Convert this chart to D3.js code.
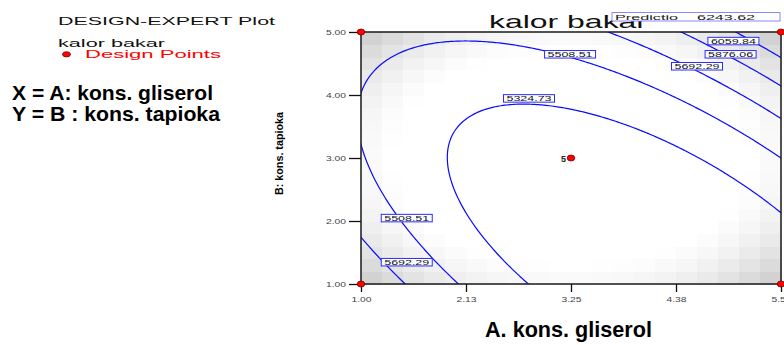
<!DOCTYPE html>
<html>
<head>
<meta charset="utf-8">
<script src="https://cdn.jsdelivr.net/npm/d3@7"></script>
<style>
  html, body { margin: 0; padding: 0; background: #ffffff; }
  svg { display: block; font-family: "Liberation Sans", Arial, Helvetica, sans-serif; }
</style>
</head>
<body>
<svg id="chart" width="784" height="345"></svg>
<script>
// ---- Response surface: kalor bakar, quadratic model in coded factors ----
const modelTerms = ["Intercept", "A", "B", "AB", "A^2", "B^2"];
const modelCoefs = [5218.4, -6.0, 190.8, 326.7, 296.3, 217.4];

// factor ranges (actual units)
const factorNames = ["A. kons. gliserol", "B: kons. tapioka"];
const rangeA = [1.00, 5.50];
const rangeB = [1.00, 5.00];

// contour levels drawn
const contourLevels = [5324.73, 5508.51, 5692.29, 5876.06, 6059.84];

// contour label placements (actual units)
const labelLevels = [5324.73, 5508.51, 5692.29, 5876.06, 6059.84, 5508.51, 5692.29];
const labelA = [2.80, 3.24, 4.60, 4.96, 4.99, 1.49, 1.49];
const labelB = [3.95, 4.65, 4.46, 4.65, 4.86, 2.05, 1.35];

// design points inside the plotted region
const designA = [1.00, 1.00, 5.50, 5.50, 3.25];
const designB = [1.00, 5.00, 1.00, 5.00, 3.00];
const designReps = [1, 1, 1, 1, 5];

// full central composite design (coded) used for the standard-error shading
const ccdA = [-1, 1, -1, 1, -1.414, 1.414, 0, 0, 0, 0, 0, 0, 0];
const ccdB = [-1, -1, 1, 1, 0, 0, -1.414, 1.414, 0, 0, 0, 0, 0];

// axis ticks
const xTickValues = [1.00, 2.125, 3.25, 4.375, 5.50];
const xTickLabels = ["1.00", "2.13", "3.25", "4.38", "5.50"];
const yTickValues = [1.00, 2.00, 3.00, 4.00, 5.00];
const yTickLabels = ["1.00", "2.00", "3.00", "4.00", "5.00"];

// prediction readout at the selected point
const predictionText = ["Predictio", "6243.62"];

// ---------------------------------------------------------------------
const svg = d3.select("#chart");
const plot = { left: 361, top: 32, right: 781, bottom: 284 };

const x = d3.scaleLinear().domain(rangeA).range([plot.left, plot.right]);
const y = d3.scaleLinear().domain(rangeB).range([plot.bottom, plot.top]);

const codeA = A => (A - (rangeA[0] + rangeA[1]) / 2) / ((rangeA[1] - rangeA[0]) / 2);
const codeB = B => (B - (rangeB[0] + rangeB[1]) / 2) / ((rangeB[1] - rangeB[0]) / 2);
const termsOf = (a, b) => [1, a, b, a * b, a * a, b * b];
const predict = (A, B) => {
  const t = termsOf(codeA(A), codeB(B));
  return d3.sum(t, (v, i) => v * modelCoefs[i]);
};

// ---- standard error of prediction from the design ----
function invert(M) {
  const n = M.length;
  const A = M.map((row, i) => row.concat(d3.range(n).map(j => (i === j ? 1 : 0))));
  for (let c = 0; c < n; c++) {
    let p = c;
    for (let r = c + 1; r < n; r++) if (Math.abs(A[r][c]) > Math.abs(A[p][c])) p = r;
    [A[c], A[p]] = [A[p], A[c]];
    const pv = A[c][c];
    for (let k = 0; k < 2 * n; k++) A[c][k] /= pv;
    for (let r = 0; r < n; r++) {
      if (r === c) continue;
      const f = A[r][c];
      for (let k = 0; k < 2 * n; k++) A[r][k] -= f * A[c][k];
    }
  }
  return A.map(row => row.slice(n));
}
const Xrows = ccdA.map((a, i) => termsOf(a, ccdB[i]));
const XtX = d3.range(6).map(i => d3.range(6).map(j => d3.sum(Xrows, r => r[i] * r[j])));
const XtXinv = invert(XtX);
const stdErr = (a, b) => {
  const t = termsOf(a, b);
  let v = 0;
  for (let i = 0; i < 6; i++) for (let j = 0; j < 6; j++) v += t[i] * XtXinv[i][j] * t[j];
  return Math.sqrt(v);
};

// shading cells (20 x 20)
const nCells = 20;
const cells = [];
for (let i = 0; i < nCells; i++) {
  for (let j = 0; j < nCells; j++) {
    const A0 = rangeA[0] + (rangeA[1] - rangeA[0]) * i / nCells;
    const A1 = rangeA[0] + (rangeA[1] - rangeA[0]) * (i + 1) / nCells;
    const B0 = rangeB[0] + (rangeB[1] - rangeB[0]) * j / nCells;
    const B1 = rangeB[0] + (rangeB[1] - rangeB[0]) * (j + 1) / nCells;
    cells.push({ A0, A1, B0, B1, se: stdErr(codeA((A0 + A1) / 2), codeB((B0 + B1) / 2)) });
  }
}
const seEdge = stdErr(0.85, 0);
const shade = d3.scaleLinear()
  .domain([seEdge, d3.max(cells, d => d.se)])
  .range(["#ffffff", "#d2d2d2"])
  .clamp(true);

svg.append("g").selectAll("rect").data(cells).join("rect")
  .attr("x", d => x(d.A0))
  .attr("y", d => y(d.B1))
  .attr("width", d => x(d.A1) - x(d.A0) + 0.5)
  .attr("height", d => y(d.B0) - y(d.B1) + 0.5)
  .attr("fill", d => shade(d.se))
  .attr("shape-rendering", "crispEdges");

// ---- contour lines ----
svg.append("defs").append("clipPath").attr("id", "plotClip")
  .append("rect")
  .attr("x", plot.left).attr("y", plot.top)
  .attr("width", plot.right - plot.left).attr("height", plot.bottom - plot.top);

const step = 0.02;
const gA0 = rangeA[0] - 0.5, gB0 = rangeB[0] - 0.5;
const nA = Math.round((rangeA[1] + 0.5 - gA0) / step) + 1;
const nB = Math.round((rangeB[1] + 0.5 - gB0) / step) + 1;
const grid = new Array(nA * nB);
for (let j = 0; j < nB; j++) {
  for (let i = 0; i < nA; i++) grid[j * nA + i] = predict(gA0 + i * step, gB0 + j * step);
}
const contours = d3.contours().size([nA, nB]).thresholds(contourLevels)(grid);
const gridProjection = d3.geoTransform({
  point: function (px, py) {
    this.stream.point(x(gA0 + (px - 0.5) * step), y(gB0 + (py - 0.5) * step));
  }
});
svg.append("g").attr("clip-path", "url(#plotClip)")
  .selectAll("path").data(contours).join("path")
  .attr("d", d3.geoPath(gridProjection))
  .attr("fill", "none")
  .attr("stroke", "#0a0aff")
  .attr("stroke-width", 1.2);

// ---- frame ----
svg.append("rect")
  .attr("x", plot.left).attr("y", plot.top)
  .attr("width", plot.right - plot.left).attr("height", plot.bottom - plot.top)
  .attr("fill", "none").attr("stroke", "#1a1a1a").attr("stroke-width", 1.5);

// ---- axes ----
const xAxis = svg.append("g")
  .attr("transform", `translate(0,${plot.bottom})`)
  .call(d3.axisBottom(x).tickValues(xTickValues)
    .tickFormat((d, i) => xTickLabels[i]).tickSize(8).tickSizeOuter(0));
const yAxis = svg.append("g")
  .attr("transform", `translate(${plot.left},0)`)
  .call(d3.axisLeft(y).tickValues(yTickValues)
    .tickFormat((d, i) => yTickLabels[i]).tickSize(12).tickSizeOuter(0));
[xAxis, yAxis].forEach(g => {
  g.select(".domain").remove();
  g.selectAll(".tick line").attr("stroke", "#111").attr("stroke-width", 1.3);
  g.selectAll(".tick text")
    .attr("font-size", 8)
    .attr("fill", "#444")
    .attr("font-family", "'Liberation Sans', Arial, sans-serif")
    .attr("textLength", 20)
    .attr("lengthAdjust", "spacingAndGlyphs");
});
xAxis.selectAll(".tick text").attr("y", 12);

// ---- contour labels ----
const labelData = labelLevels.map((lv, i) => ({ lv, A: labelA[i], B: labelB[i] }));
const lab = svg.append("g").selectAll("g").data(labelData).join("g")
  .attr("transform", d => `translate(${x(d.A)},${y(d.B)})`);
lab.append("rect")
  .attr("x", -25.5).attr("y", -3.5).attr("width", 51).attr("height", 7.5)
  .attr("fill", "#ffffff").attr("stroke", "#2a2aff").attr("stroke-width", 1);
lab.append("text")
  .attr("text-anchor", "middle").attr("y", 3)
  .attr("font-size", 7.5).attr("fill", "#111")
  .attr("textLength", 45).attr("lengthAdjust", "spacingAndGlyphs")
  .text(d => d.lv.toFixed(2));

// ---- design points ----
const pts = designA.map((A, i) => ({ A, B: designB[i], n: designReps[i] }));
svg.append("g").selectAll("ellipse").data(pts).join("ellipse")
  .attr("cx", d => x(d.A)).attr("cy", d => y(d.B))
  .attr("rx", 3.8).attr("ry", 3)
  .attr("fill", "#ff0000").attr("stroke", "#7a0000").attr("stroke-width", 0.8);
svg.append("g").selectAll("text").data(pts.filter(d => d.n > 1)).join("text")
  .attr("x", d => x(d.A) - 5).attr("y", d => y(d.B) + 3.5)
  .attr("text-anchor", "end").attr("font-size", 9).attr("font-weight", 700)
  .attr("fill", "#222").text(d => d.n);

// ---- titles ----
svg.append("text")
  .attr("x", 489).attr("y", 28)
  .attr("font-size", 18.5).attr("fill", "#111")
  .attr("textLength", 158).attr("lengthAdjust", "spacingAndGlyphs")
  .text("kalor bakar");

// prediction readout box
const pred = svg.append("g");
pred.append("rect")
  .attr("x", 612).attr("y", 12.5).attr("width", 168).attr("height", 8.5)
  .attr("fill", "#ffffff").attr("stroke", "#8a8aee").attr("stroke-width", 1);
pred.append("text").attr("x", 615).attr("y", 19.8)
  .attr("font-size", 7.5).attr("fill", "#222")
  .attr("textLength", 63).attr("lengthAdjust", "spacingAndGlyphs")
  .text(predictionText[0]);
pred.append("text").attr("x", 697).attr("y", 19.8)
  .attr("font-size", 7.5).attr("fill", "#222")
  .attr("textLength", 58).attr("lengthAdjust", "spacingAndGlyphs")
  .text(predictionText[1]);

// axis titles
svg.append("text")
  .attr("x", 485).attr("y", 337)
  .attr("font-size", 22).attr("font-weight", 700).attr("fill", "#000")
  .attr("textLength", 167).attr("lengthAdjust", "spacingAndGlyphs")
  .text(factorNames[0]);
svg.append("text")
  .attr("transform", "translate(282.5,153.5) rotate(-90)")
  .attr("text-anchor", "middle")
  .attr("font-size", 10).attr("font-weight", 700).attr("fill", "#000")
  .attr("textLength", 83).attr("lengthAdjust", "spacingAndGlyphs")
  .text(factorNames[1]);

// ---- side legend ----
const side = svg.append("g");
side.append("text").attr("x", 58).attr("y", 24.5)
  .attr("font-size", 11).attr("fill", "#111")
  .attr("textLength", 217).attr("lengthAdjust", "spacingAndGlyphs")
  .text("DESIGN-EXPERT Plot");
side.append("text").attr("x", 58).attr("y", 46.5)
  .attr("font-size", 11).attr("fill", "#111")
  .attr("textLength", 107).attr("lengthAdjust", "spacingAndGlyphs")
  .text("kalor bakar");
side.append("ellipse").attr("cx", 66.5).attr("cy", 54.3).attr("rx", 4).attr("ry", 2.6)
  .attr("fill", "#ff0000").attr("stroke", "#7a0000").attr("stroke-width", 0.8);
side.append("text").attr("x", 85).attr("y", 57.5)
  .attr("font-size", 11).attr("fill", "#ff0000")
  .attr("textLength", 136).attr("lengthAdjust", "spacingAndGlyphs")
  .text("Design Points");
side.append("text").attr("x", 12).attr("y", 100)
  .attr("font-size", 20.5).attr("font-weight", 700).attr("fill", "#000")
  .attr("textLength", 201).attr("lengthAdjust", "spacingAndGlyphs")
  .text("X = A: kons. gliserol");
side.append("text").attr("x", 12).attr("y", 121)
  .attr("font-size", 20.5).attr("font-weight", 700).attr("fill", "#000")
  .attr("textLength", 208).attr("lengthAdjust", "spacingAndGlyphs")
  .text("Y = B : kons. tapioka");
</script>
</body>
</html>
